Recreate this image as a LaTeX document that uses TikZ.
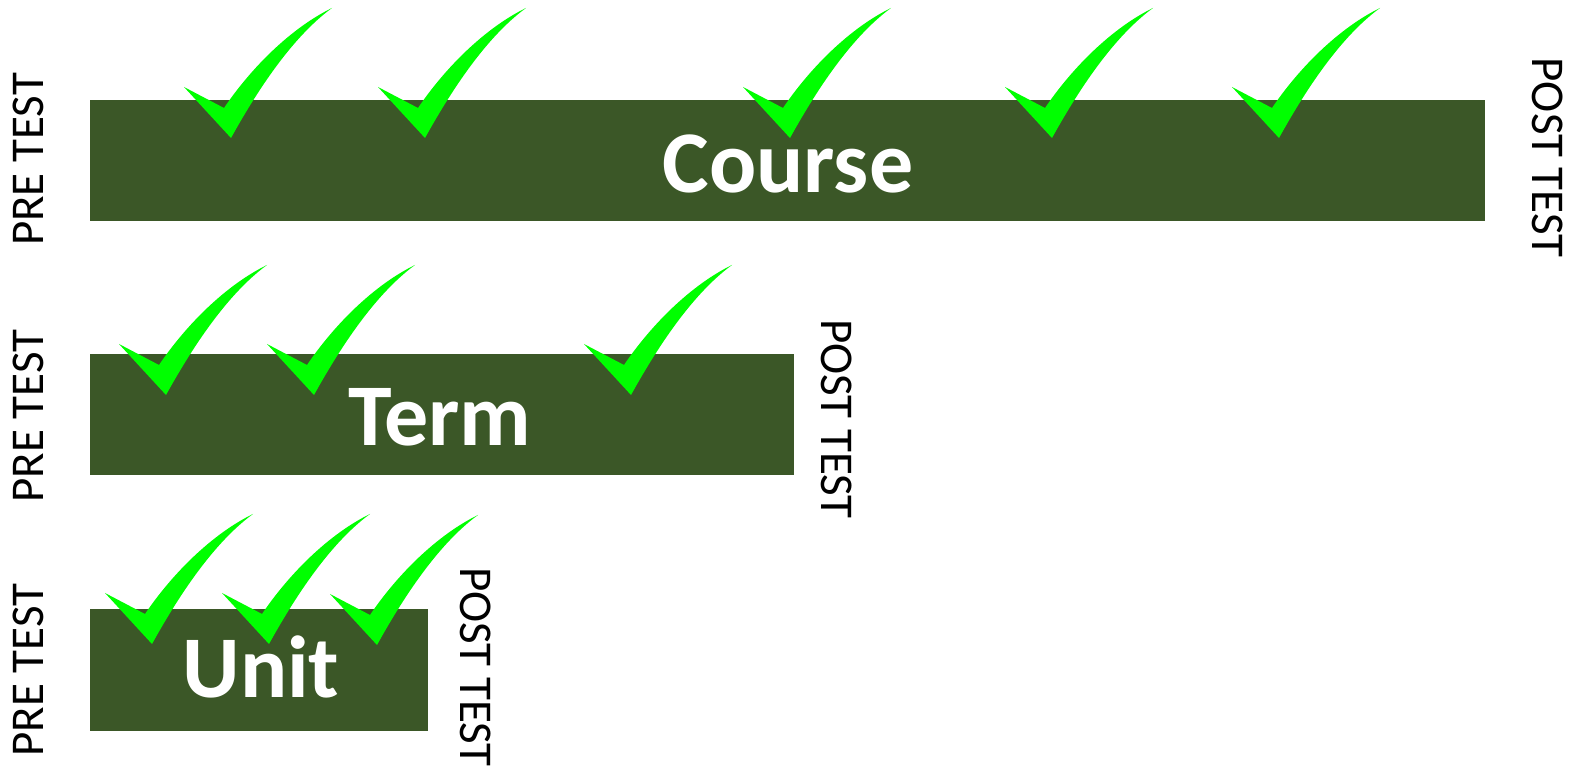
\documentclass[tikz,border=0pt]{standalone}
\usepackage{fontspec}
\setmainfont{Carlito}
\definecolor{boxgreen}{RGB}{59,87,39}
\definecolor{tickgreen}{RGB}{0,255,0}
\tikzset{
  stage/.style={fill=boxgreen, draw=none, inner sep=0pt, anchor=north west},
  stagename/.style={text=white, font=\bfseries\fontsize{44}{44}\selectfont, anchor=base, inner sep=0pt},
  pretest/.style={font=\fontsize{23.5}{23.5}\selectfont, rotate=90, inner sep=0pt},
  posttest/.style={font=\fontsize{23.5}{23.5}\selectfont, rotate=-90, inner sep=0pt},
  okmark/.pic={
    \fill[tickgreen] (0,0) -- (-47,-51) -- (-7,-30)
      .. controls (20,-70) and (60,-110) .. (101,-130)
      .. controls (60,-100) and (25,-45) .. (0,0) -- cycle;
  }
}
\begin{document}
\begin{tikzpicture}[x=0.5pt, y=-0.5pt]
\useasboundingbox (0,0) rectangle (1576,779);

% the three stages
\node[stage, minimum width=697.5pt, minimum height=60.5pt] (course) at (90,100) {};
\node[stage, minimum width=352pt, minimum height=60.5pt] (term) at (90,354) {};
\node[stage, minimum width=169pt, minimum height=61pt] (unit) at (90,609) {};

\node[stagename] (coursename) at (788,193) {Course};
\node[stagename] (termname) at (440,446) {Term};
\node[stagename] (unitname) at (261,698) {Unit};

% tests before and after each stage
\node[pretest] (coursepre) at (28,159.5) {PRE TEST};
\node[pretest] (termpre) at (28,416) {PRE TEST};
\node[pretest] (unitpre) at (28,670) {PRE TEST};
\node[posttest] (coursepost) at (1548,157.5) {POST TEST};
\node[posttest] (termpost) at (837,419) {POST TEST};
\node[posttest] (unitpost) at (476,667) {POST TEST};

% check marks
\foreach \x in {231,425,790,1052,1279} \pic at (\x,138) {okmark};
\foreach \x in {166,314,631} \pic at (\x,395) {okmark};
\foreach \x/\y in {152/644,269/644,377/645} \pic at (\x,\y) {okmark};
\end{tikzpicture}
\end{document}
